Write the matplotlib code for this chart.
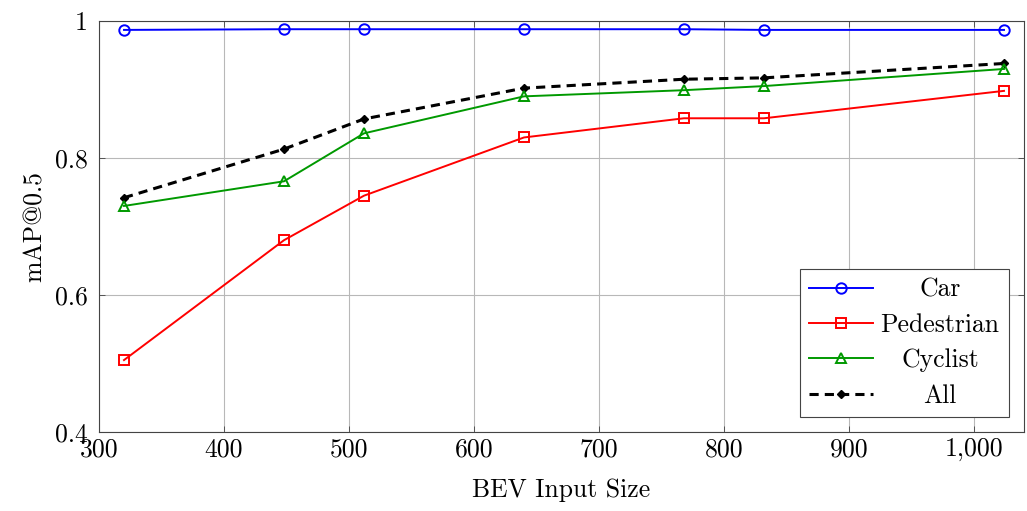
import matplotlib.pyplot as plt
from matplotlib.ticker import FuncFormatter

plt.rcParams['font.family'] = ['cmr10', 'DejaVu Serif']
plt.rcParams['axes.formatter.use_mathtext'] = True
plt.rcParams['mathtext.fontset'] = 'cm'

sizes = [320, 448, 512, 640, 768, 832, 1024]
car = [0.987, 0.988, 0.988, 0.988, 0.988, 0.987, 0.987]
pedestrian = [0.505, 0.680, 0.745, 0.830, 0.858, 0.858, 0.898]
cyclist = [0.730, 0.766, 0.836, 0.890, 0.899, 0.905, 0.930]
all_cls = [0.742, 0.813, 0.857, 0.902, 0.915, 0.917, 0.938]

fig = plt.figure(figsize=(10.27, 5.11), dpi=100)
ax = fig.add_axes([99/1027, 1 - 432/511, (1024-99)/1027, (432-21)/511])

ax.plot(sizes, car, color='blue', lw=1.4, marker='o', ms=7.5, mfc='none', mew=1.4, label='Car')
ax.plot(sizes, pedestrian, color='red', lw=1.4, marker='s', ms=7.5, mfc='none', mew=1.4, label='Pedestrian')
ax.plot(sizes, cyclist, color=(0, 0.6, 0), lw=1.4, marker='^', ms=7, mfc='none', mew=1.4, label='Cyclist')
ax.plot(sizes, all_cls, color='black', lw=2.2, ls=(0, (3, 2)), marker='D', ms=4.5, mfc='black', mew=1, label='All', zorder=1.5)

ax.set_xlim(300, 1040)
ax.set_ylim(0.4, 1.0)
ax.set_xticks(range(300, 1001, 100))
ax.set_yticks([0.4, 0.6, 0.8, 1.0])
ax.xaxis.set_major_formatter(FuncFormatter(lambda v, p: f'{v:,.0f}'))
ax.yaxis.set_major_formatter(FuncFormatter(lambda v, p: f'{v:g}'))
ax.grid(True, color='#b8b8b8', lw=0.8)
ax.set_axisbelow(True)
ax.tick_params(direction='in', length=4, width=0.6, top=True, right=True, labelsize=18.5, colors='#444444', labelcolor='black')
ax.tick_params(axis='x', pad=4)
ax.tick_params(axis='y', pad=8)
for s in ax.spines.values():
    s.set_color('#444444')
    s.set_linewidth(0.8)

ax.set_xlabel('BEV Input Size', fontsize=18.5, labelpad=12)
ax.set_ylabel('mAP@0.5', fontsize=18.5, labelpad=6)

leg = ax.legend(loc='lower right', fontsize=18.5, frameon=True, fancybox=False, edgecolor='#444444',
                framealpha=1, borderaxespad=0.6, handlelength=2.5, handletextpad=0.3,
                labelspacing=0.45, borderpad=0.35)
leg.get_frame().set_linewidth(0.8)

# centre the legend labels like pgfplots does
fig.canvas.draw()
r = fig.canvas.get_renderer()
widths = [t.get_window_extent(r).width for t in leg.get_texts()]
wmax = max(widths)
for t, w in zip(leg.get_texts(), widths):
    t.set_position(((wmax - w) / 2, 0))

plt.savefig('out.png', dpi=100)
